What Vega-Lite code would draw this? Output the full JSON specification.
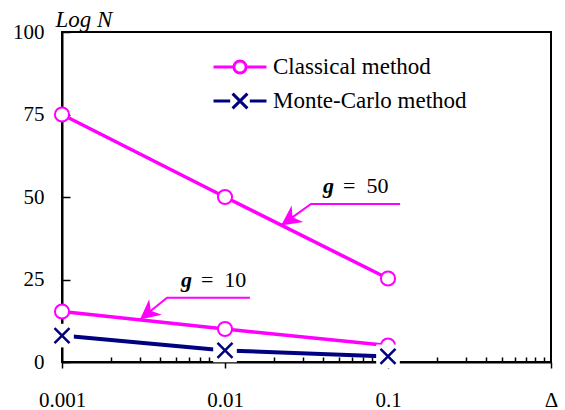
{
  "$schema": "https://vega.github.io/schema/vega-lite/v6.json",
  "width": 489,
  "height": 330,
  "autosize": "none",
  "padding": {"left": 62, "top": 32, "right": 14, "bottom": 48},
  "background": "white",
  "config": {
    "view": {"stroke": "black", "strokeWidth": 2},
    "font": "Liberation Serif"
  },
  "resolve": {"axis": {"x": "independent"}},
  "datasets": {
    "main": [
      {"series": "Classical method", "curve": "g50", "delta": 0.001, "logN": 75},
      {"series": "Classical method", "curve": "g50", "delta": 0.01, "logN": 50},
      {"series": "Classical method", "curve": "g50", "delta": 0.1, "logN": 25.3},
      {"series": "Classical method", "curve": "g10", "delta": 0.001, "logN": 15.3},
      {"series": "Classical method", "curve": "g10", "delta": 0.01, "logN": 10},
      {"series": "Classical method", "curve": "g10", "delta": 0.1, "logN": 5},
      {"series": "Monte-Carlo method", "curve": "mc", "delta": 0.001, "logN": 8},
      {"series": "Monte-Carlo method", "curve": "mc", "delta": 0.01, "logN": 3.5},
      {"series": "Monte-Carlo method", "curve": "mc", "delta": 0.1, "logN": 1.7}
    ],
    "arrows": [
      {"gamma": "50", "step": 1, "delta": 0.1187, "logN": 47.9},
      {"gamma": "50", "step": 2, "delta": 0.0337, "logN": 47.9},
      {"gamma": "50", "step": 3, "delta": 0.0221, "logN": 41.4},
      {"gamma": "10", "step": 1, "delta": 0.01422, "logN": 19.5},
      {"gamma": "10", "step": 2, "delta": 0.00441, "logN": 19.5},
      {"gamma": "10", "step": 3, "delta": 0.00301, "logN": 12.85}
    ],
    "labels": [
      {"gamma": "50", "delta": 0.0508, "logN": 51.2, "text": "=\u00a0\u00a050"},
      {"gamma": "10", "delta": 0.00682, "logN": 22.7, "text": "=\u00a0\u00a010"}
    ]
  },
  "encoding": {
    "x": {
      "field": "delta", "type": "quantitative",
      "scale": {"type": "log", "domain": [0.001, 1], "nice": false},
      "axis": null
    },
    "y": {
      "field": "logN", "type": "quantitative",
      "scale": {"domain": [0, 100], "nice": false},
      "axis": {
        "values": [0, 25, 50, 75, 100],
        "title": "Log N", "titleAngle": 0, "titleX": -7, "titleY": -6,
        "titleAlign": "left", "titleBaseline": "alphabetic",
        "titleFont": "Liberation Serif", "titleFontSize": 23, "titleFontStyle": "italic", "titleFontWeight": "normal", "titleColor": "black",
        "grid": false,
        "domainColor": "black", "domainWidth": 2,
        "tickColor": "black", "tickWidth": 1.5, "tickSize": -8,
        "labelFont": "Liberation Serif", "labelFontSize": 21, "labelColor": "black",
        "labelPadding": 26
      }
    }
  },
  "layer": [
    {
      "data": {"name": "main"},
      "transform": [{"filter": "false"}],
      "mark": {"type": "rule"},
      "encoding": {
        "x": {
          "field": "delta", "type": "quantitative",
          "axis": {
            "orient": "bottom",
            "values": [0.002, 0.003, 0.004, 0.005, 0.006, 0.007, 0.008, 0.009, 0.02, 0.03, 0.04, 0.05, 0.06, 0.07, 0.08, 0.09, 0.2, 0.3, 0.4, 0.5, 0.6, 0.7, 0.8, 0.9],
            "labels": false, "domain": false, "title": null, "grid": false,
            "tickColor": "black", "tickWidth": 1.5, "tickSize": -5
          }
        }
      }
    },
    {
      "data": {"name": "main"},
      "mark": {"type": "point", "filled": false, "opacity": 0},
      "encoding": {
        "x": {
          "field": "delta", "type": "quantitative",
          "axis": {
            "orient": "bottom",
            "values": [0.001, 0.01, 0.1, 1],
            "format": "~g",
            "labelExpr": "datum.value >= 0.9 ? 'Δ' : datum.label",
            "title": null, "grid": false,
            "domainColor": "black", "domainWidth": 2,
            "tickColor": "black", "tickWidth": 1.5, "tickSize": 6,
            "labelFont": "Liberation Serif", "labelFontSize": 21, "labelColor": "black",
            "labelPadding": 21, "labelFlush": false, "labelOverlap": false
          }
        },
        "color": {"field": "series", "type": "nominal",
          "scale": {"domain": ["Classical method", "Monte-Carlo method"], "range": ["#ff00ff", "#000080"]},
          "legend": {"orient": "none", "legendX": 150, "legendY": 18, "title": null,
            "symbolSize": 2809, "symbolStrokeWidth": 3, "symbolFillColor": "white", "symbolOpacity": 1,
            "labelFont": "Liberation Serif", "labelFontSize": 23, "labelColor": "black", "labelLimit": 400,
            "labelOffset": 5, "rowPadding": 0, "clipHeight": 34, "padding": 0}},
        "shape": {"field": "series", "type": "nominal",
          "scale": {"domain": ["Classical method", "Monte-Carlo method"],
            "range": ["M-1,0H-0.23M0.23,0H1M-0.23,0A0.23,0.23 0 1,1 0.23,0A0.23,0.23 0 1,1 -0.23,0Z",
                      "M-1,0H-0.37M0.37,0H1M-0.28,-0.28L0.28,0.28M-0.28,0.28L0.28,-0.28"]},
          "legend": {"orient": "none", "legendX": 150, "legendY": 18, "title": null,
            "symbolSize": 2809, "symbolStrokeWidth": 3, "symbolFillColor": "white", "symbolOpacity": 1,
            "labelFont": "Liberation Serif", "labelFontSize": 23, "labelColor": "black", "labelLimit": 400,
            "labelOffset": 5, "rowPadding": 0, "clipHeight": 34, "padding": 0}}
      }
    },
    {
      "data": {"name": "main"},
      "transform": [{"filter": "datum.series == 'Classical method'"}],
      "mark": {"type": "line", "strokeWidth": 3.5},
      "encoding": {
        "detail": {"field": "curve"},
        "color": {"field": "series", "type": "nominal", "legend": null}
      }
    },
    {
      "data": {"name": "main"},
      "transform": [{"filter": "datum.series == 'Classical method'"}],
      "mark": {"type": "point", "shape": "circle", "size": 200, "filled": false, "fill": "white", "fillOpacity": 1, "opacity": 1, "strokeWidth": 2},
      "encoding": {
        "color": {"field": "series", "type": "nominal", "legend": null}
      }
    },
    {
      "data": {"name": "main"},
      "transform": [{"filter": "datum.series == 'Monte-Carlo method'"}],
      "mark": {"type": "line", "strokeWidth": 4},
      "encoding": {
        "color": {"field": "series", "type": "nominal", "legend": null}
      }
    },
    {
      "data": {"name": "main"},
      "transform": [{"filter": "datum.series == 'Monte-Carlo method'"}],
      "mark": {"type": "point", "shape": "square", "size": 560, "filled": true, "color": "white", "opacity": 1, "strokeWidth": 0}
    },
    {
      "data": {"name": "main"},
      "transform": [{"filter": "datum.series == 'Monte-Carlo method'"}],
      "mark": {"type": "point", "shape": "M-1,-1L1,1M-1,1L1,-1", "size": 225, "filled": false, "opacity": 1, "strokeWidth": 2.5},
      "encoding": {
        "color": {"field": "series", "type": "nominal", "legend": null}
      }
    },
    {
      "data": {"name": "arrows"},
      "mark": {"type": "line", "color": "#ff00ff", "strokeWidth": 2},
      "encoding": {
        "detail": {"field": "gamma"},
        "order": {"field": "step", "type": "quantitative"}
      }
    },
    {
      "data": {"name": "arrows"},
      "transform": [{"filter": "datum.gamma == '50' && datum.step == 3"}],
      "mark": {"type": "point", "shape": "M0,0L-1,-0.5L-0.7,0L-1,0.5Z", "size": 1600, "angle": 144.5, "filled": true, "color": "#ff00ff", "opacity": 1}
    },
    {
      "data": {"name": "arrows"},
      "transform": [{"filter": "datum.gamma == '10' && datum.step == 3"}],
      "mark": {"type": "point", "shape": "M0,0L-1,-0.5L-0.7,0L-1,0.5Z", "size": 1600, "angle": 140.7, "filled": true, "color": "#ff00ff", "opacity": 1}
    },
    {
      "data": {"name": "labels"},
      "mark": {"type": "text", "align": "left", "baseline": "alphabetic", "dx": 3, "font": "Liberation Serif", "fontSize": 22, "color": "black"},
      "encoding": {"text": {"field": "text"}}
    },
    {
      "data": {"name": "labels"},
      "mark": {"type": "text", "align": "left", "baseline": "alphabetic", "dx": -17, "font": "Liberation Serif", "fontSize": 22, "fontStyle": "italic", "fontWeight": "bold", "color": "black", "text": "g"}
    }
  ]
}
